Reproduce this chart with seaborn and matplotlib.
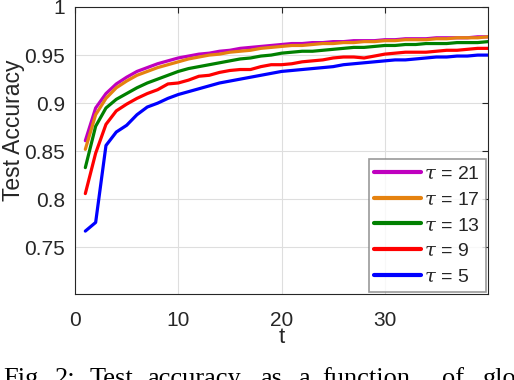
import numpy as np
import pandas as pd
import matplotlib
matplotlib.use("Agg")
import matplotlib.pyplot as plt
import seaborn as sns
from matplotlib.ticker import FuncFormatter

t = list(range(1, 41))
acc_tau5 = [0.767, 0.776, 0.856, 0.870, 0.877, 0.888, 0.896, 0.900, 0.905, 0.909,
            0.912, 0.915, 0.918, 0.921, 0.923, 0.925, 0.927, 0.929, 0.931, 0.933,
            0.934, 0.935, 0.936, 0.937, 0.938, 0.940, 0.941, 0.942, 0.943, 0.944,
            0.945, 0.945, 0.946, 0.947, 0.948, 0.948, 0.949, 0.949, 0.950, 0.950]
acc_tau9 = [0.806, 0.848, 0.878, 0.892, 0.899, 0.905, 0.910, 0.914, 0.920, 0.921,
            0.924, 0.928, 0.929, 0.932, 0.934, 0.935, 0.935, 0.938, 0.940, 0.940,
            0.941, 0.943, 0.944, 0.945, 0.947, 0.948, 0.948, 0.947, 0.949, 0.951,
            0.952, 0.953, 0.953, 0.953, 0.954, 0.955, 0.955, 0.956, 0.957, 0.957]
acc_tau13 = [0.833, 0.876, 0.895, 0.904, 0.910, 0.916, 0.921, 0.925, 0.929, 0.933,
             0.936, 0.938, 0.940, 0.942, 0.944, 0.946, 0.947, 0.949, 0.950, 0.952,
             0.953, 0.954, 0.954, 0.955, 0.956, 0.957, 0.958, 0.958, 0.959, 0.960,
             0.960, 0.961, 0.961, 0.962, 0.962, 0.962, 0.963, 0.963, 0.963, 0.964]
acc_tau17 = [0.852, 0.888, 0.905, 0.916, 0.923, 0.929, 0.933, 0.937, 0.940, 0.943,
             0.946, 0.948, 0.950, 0.951, 0.953, 0.954, 0.955, 0.957, 0.958, 0.959,
             0.960, 0.960, 0.961, 0.962, 0.962, 0.963, 0.963, 0.964, 0.964, 0.965,
             0.965, 0.966, 0.966, 0.966, 0.967, 0.967, 0.968, 0.968, 0.968, 0.969]
acc_tau21 = [0.861, 0.895, 0.910, 0.920, 0.927, 0.933, 0.937, 0.941, 0.944, 0.947,
             0.949, 0.951, 0.952, 0.954, 0.955, 0.957, 0.958, 0.959, 0.960, 0.961,
             0.962, 0.962, 0.963, 0.963, 0.964, 0.964, 0.965, 0.965, 0.965, 0.966,
             0.966, 0.967, 0.967, 0.967, 0.968, 0.968, 0.968, 0.968, 0.969, 0.969]

series_names = [r"$\tau$ = 21", r"$\tau$ = 17", r"$\tau$ = 13", r"$\tau$ = 9", r"$\tau$ = 5"]
series_values = [acc_tau21, acc_tau17, acc_tau13, acc_tau9, acc_tau5]
colors = ["#BF00BF", "#E5820F", "#008000", "#FF0000", "#0000FF"]
x_ticks = [0, 10, 20, 30]
y_ticks = [0.75, 0.8, 0.85, 0.9, 0.95, 1.0]

df = pd.DataFrame({
    "t": t * len(series_names),
    "acc": sum(series_values, []),
    "series": sum([[n] * len(t) for n in series_names], []),
})

sns.set_style("white")
plt.rcParams["font.family"] = ["Liberation Sans", "DejaVu Sans"]
plt.rcParams["mathtext.fontset"] = "custom"
plt.rcParams["mathtext.it"] = "DejaVu Serif:italic"

fig = plt.figure(figsize=(5.14, 3.80), dpi=100)
ax = fig.add_axes([75 / 514, 1 - 294 / 380, 413 / 514, 287 / 380])

sns.lineplot(data=df, x="t", y="acc", hue="series", hue_order=series_names,
             palette=colors, linewidth=2.3, ax=ax, legend=True)

ax.set_xlim(0, 40)
ax.set_ylim(0.7016, 1.0)
ax.set_xticks(x_ticks)
ax.set_yticks(y_ticks)
ax.yaxis.set_major_formatter(FuncFormatter(lambda v, p: f"{v:g}"))
ax.grid(True, color="#DEDEDE", linewidth=0.8)
ax.set_axisbelow(True)
for s in ax.spines.values():
    s.set_color("#262626")
    s.set_linewidth(0.8)
ax.tick_params(axis="both", direction="in", length=4, width=0.8, color="#262626",
               labelsize=15, top=True, right=True, labelcolor="#262626")
ax.tick_params(axis="x", pad=12)
ax.tick_params(axis="y", pad=7)

ax.set_xlabel("t", fontsize=16, color="#262626", labelpad=-2)
ax.set_ylabel("Test Accuracy", fontsize=16.5, color="#262626")
ax.yaxis.set_label_coords(-0.121, 0.571)

leg = ax.legend(loc="lower right", fontsize=14, frameon=True, fancybox=False,
                edgecolor="#808080", handlelength=2.4, handletextpad=0.15,
                borderaxespad=0.12, labelspacing=0.42, borderpad=0.3)
leg.get_frame().set_linewidth(1.2)
for h in leg.get_lines():
    h.set_linewidth(3)

caption_words = ["Fig.", "2:", "Test", "accuracy", "as", "a", "function", "of", "global"]
caption_x = [3, 55, 90, 147, 260, 298, 322, 442, 483]
for w, xp in zip(caption_words, caption_x):
    fig.text(xp / 514, -0.012, w, fontsize=19, family="Liberation Serif",
             color="black", ha="left", va="baseline")

fig.savefig("out.png", dpi=100)
